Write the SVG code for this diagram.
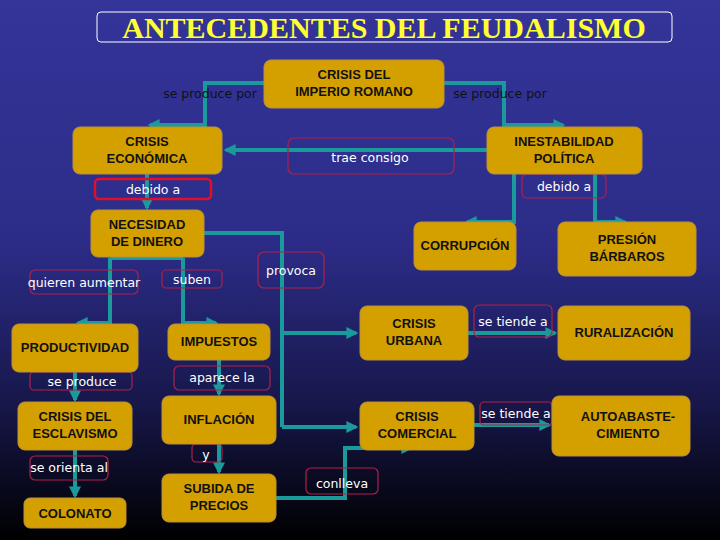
<svg xmlns="http://www.w3.org/2000/svg" width="720" height="540" viewBox="0 0 720 540">
<defs>
<linearGradient id="bg" x1="0" y1="0" x2="0" y2="1">
<stop offset="0" stop-color="#343499"/><stop offset="0.45" stop-color="#2c2c88"/><stop offset="0.75" stop-color="#17174a"/><stop offset="1" stop-color="#000000"/>
</linearGradient>
<marker id="ar" viewBox="0 0 10 10" refX="8" refY="5" markerWidth="3" markerHeight="3" orient="auto"><path d="M0,0 L10,5 L0,10 z" fill="#1a9a9a"/></marker>
<style>
.n{fill:#d4a000;stroke:#b89040;stroke-width:1}
.nt{font-family:"Liberation Sans",sans-serif;font-weight:bold;font-size:13px;fill:#111;text-anchor:middle}
.lb{fill:none;stroke:#b0204a;stroke-width:1.2}
.lt{font-family:"DejaVu Sans",sans-serif;font-size:12.5px;fill:#fff;text-anchor:middle}
.c{fill:none;stroke:#1a9a9a;stroke-width:4;marker-end:url(#ar)}
.cn{fill:none;stroke:#1a9a9a;stroke-width:4}
</style>
</defs>
<rect width="720" height="540" fill="url(#bg)"/>
<g id="title"><rect x="97" y="12" width="575" height="30" rx="4" fill="none" stroke="#fff" stroke-width="1"/>
<text x="384" y="38" font-family="Liberation Serif,serif" font-weight="bold" font-size="30" fill="#ffff33" text-anchor="middle">ANTECEDENTES DEL FEUDALISMO</text></g>
<g id="connectors">
<path class="c" d="M264,83 H205 V125 H150"/>
<path class="c" d="M444,83 H504 V125 H563"/>
<path class="c" d="M487,150 H226"/>
<path class="c" d="M147,174 V208"/>
<path class="c" d="M514,174 V222 H467"/>
<path class="c" d="M595,174 V222 H625"/>
<path class="cn" d="M204,233 H282 V427"/>
<path class="c" d="M282,333 H356"/>
<path class="c" d="M282,427 H356"/>
<path class="cn" d="M110,258 H183"/>
<path class="c" d="M110,258 V323 H78"/>
<path class="c" d="M183,258 V323 H216"/>
<path class="c" d="M75,372 V400"/>
<path class="c" d="M75,450 V496"/>
<path class="c" d="M219,360 V394"/>
<path class="c" d="M219,444 V472"/>
<path class="c" d="M276,498 H345 V448 H411"/>
<path class="c" d="M468,333 H555"/>
<path class="c" d="M474,425 H549"/>
</g>
<g id="labels">
<text x="210" y="98" font-family="DejaVu Sans,sans-serif" font-size="12.5" fill="#111" text-anchor="middle">se produce por</text>
<text x="500" y="98" font-family="DejaVu Sans,sans-serif" font-size="12.5" fill="#111" text-anchor="middle">se produce por</text>
<rect class="lb" x="288" y="138" width="166" height="36" rx="6"/><text class="lt" x="370" y="162">trae consigo</text>
<rect x="95" y="179" width="116" height="20" rx="4" fill="none" stroke="#e0102a" stroke-width="2.5"/><text class="lt" x="153" y="194">debido a</text>
<rect class="lb" x="522" y="174" width="84" height="24" rx="5"/><text class="lt" x="564" y="191">debido a</text>
<rect class="lb" x="30" y="270" width="108" height="24" rx="5"/><text class="lt" x="84" y="287">quieren aumentar</text>
<rect class="lb" x="162" y="270" width="60" height="18" rx="4"/><text class="lt" x="192" y="284">suben</text>
<rect class="lb" x="258" y="252" width="66" height="36" rx="6"/><text class="lt" x="291" y="275">provoca</text>
<rect class="lb" x="30" y="372" width="102" height="18" rx="4"/><text class="lt" x="82" y="386">se produce</text>
<rect class="lb" x="174" y="366" width="96" height="24" rx="5"/><text class="lt" x="222" y="382">aparece la</text>
<rect class="lb" x="30" y="456" width="78" height="24" rx="5"/><text class="lt" x="69" y="472">se orienta al</text>
<rect class="lb" x="192" y="444" width="30" height="18" rx="4"/><text class="lt" x="206" y="459">y</text>
<rect class="lb" x="306" y="468" width="72" height="26" rx="5"/><text class="lt" x="342" y="488">conlleva</text>
<rect class="lb" x="474" y="305" width="78" height="32" rx="5"/><text class="lt" x="513" y="326">se tiende a</text>
<rect class="lb" x="480" y="402" width="72" height="23" rx="4"/><text class="lt" x="516" y="418">se tiende a</text>
</g>
<g id="imperio"><rect class="n" x="264" y="60" width="180" height="48" rx="7"/><text class="nt" x="354" y="79">CRISIS DEL</text><text class="nt" x="354" y="96">IMPERIO ROMANO</text></g>
<g id="economica"><rect class="n" x="73" y="127" width="149" height="47" rx="7"/><text class="nt" x="147" y="146">CRISIS</text><text class="nt" x="147" y="163">ECONÓMICA</text></g>
<g id="inestabilidad"><rect class="n" x="487" y="127" width="155" height="47" rx="7"/><text class="nt" x="564" y="146">INESTABILIDAD</text><text class="nt" x="564" y="163">POLÍTICA</text></g>
<g id="necesidad"><rect class="n" x="91" y="210" width="113" height="47" rx="7"/><text class="nt" x="147" y="229">NECESIDAD</text><text class="nt" x="147" y="246">DE DINERO</text></g>
<g id="corrupcion"><rect class="n" x="414" y="222" width="102" height="48" rx="7"/><text class="nt" x="465" y="250">CORRUPCIÓN</text></g>
<g id="presion"><rect class="n" x="558" y="222" width="138" height="54" rx="7"/><text class="nt" x="627" y="244">PRESIÓN</text><text class="nt" x="627" y="261">BÁRBAROS</text></g>
<g id="productividad"><rect class="n" x="12" y="324" width="126" height="48" rx="7"/><text class="nt" x="75" y="352">PRODUCTIVIDAD</text></g>
<g id="impuestos"><rect class="n" x="168" y="324" width="102" height="36" rx="7"/><text class="nt" x="219" y="346">IMPUESTOS</text></g>
<g id="urbana"><rect class="n" x="360" y="306" width="108" height="54" rx="7"/><text class="nt" x="414" y="328">CRISIS</text><text class="nt" x="414" y="345">URBANA</text></g>
<g id="ruralizacion"><rect class="n" x="558" y="306" width="132" height="54" rx="7"/><text class="nt" x="624" y="337">RURALIZACIÓN</text></g>
<g id="esclavismo"><rect class="n" x="18" y="402" width="114" height="48" rx="7"/><text class="nt" x="75" y="421">CRISIS DEL</text><text class="nt" x="75" y="438">ESCLAVISMO</text></g>
<g id="inflacion"><rect class="n" x="162" y="396" width="114" height="48" rx="7"/><text class="nt" x="219" y="424">INFLACIÓN</text></g>
<g id="comercial"><rect class="n" x="360" y="402" width="114" height="48" rx="7"/><text class="nt" x="417" y="421">CRISIS</text><text class="nt" x="417" y="438">COMERCIAL</text></g>
<g id="autoabastecimiento"><rect class="n" x="552" y="396" width="138" height="60" rx="7"/><text class="nt" x="628" y="421">AUTOABASTE-</text><text class="nt" x="628" y="438">CIMIENTO</text></g>
<g id="colonato"><rect class="n" x="24" y="498" width="102" height="30" rx="6"/><text class="nt" x="75" y="518">COLONATO</text></g>
<g id="subida"><rect class="n" x="162" y="474" width="114" height="48" rx="7"/><text class="nt" x="219" y="493">SUBIDA DE</text><text class="nt" x="219" y="510">PRECIOS</text></g>
</svg>
